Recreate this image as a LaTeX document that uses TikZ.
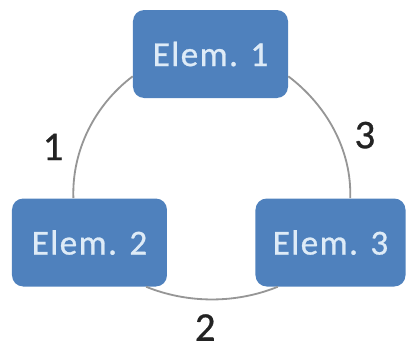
\documentclass[tikz,border=0pt]{standalone}
\usepackage{fontspec}
\setmainfont{Carlito}[FakeBold=0.8]
\newfontfamily\boxfont[LetterSpace=4,FakeBold=0.8]{Carlito}
\usepackage{xcolor}
\usepackage{tikz}
\usetikzlibrary{shapes,arrows,positioning}
\tikzset{
  font={\fontsize{29pt}{34}\selectfont}
}
\definecolor{colorB}{RGB}{79,129,189}
\definecolor{colorT}{RGB}{222,235,247}
\definecolor{colorL}{RGB}{150,150,150}
\definecolor{colorN}{RGB}{35,35,35}
\tikzstyle{line}=[draw=colorL, line width=1.3pt]
\tikzstyle{block}=[rectangle,rounded corners=8pt,fill=colorB,text=colorT,font={\boxfont\fontsize{25pt}{30}\selectfont},minimum width=38.75mm,minimum height=22mm,inner sep=0pt,on grid]
\tikzstyle{lab}=[text=colorN,inner sep=0pt]

\begin{document}
\begin{tikzpicture}[node distance=47mm]
\useasboundingbox (0,0) rectangle (10.15,-8.775);

\node[block] (elem_1) at (5.2625,-1.35) {Elem. 1};
\node[block,below left=47.125mm and 30.25mm of elem_1] (elem_2) {Elem. 2};
\node[block,minimum width=37.5mm,below right=47.125mm and 30mm of elem_1] (elem_3) {Elem. 3};

\draw[line] (elem_1.196) to[out=217,in=92,looseness=0.9] node[lab,pos=0.63,left=12pt] {1} (elem_2.110);
\draw[line] (elem_1.344) to[out=-37,in=88,looseness=0.9] node[lab,pos=0.54,right=12pt] {3} (elem_3.66);
\draw[line] (elem_2.-38) to[out=-22,in=202,looseness=0.88] node[lab,pos=0.45,below=10pt] {2} (elem_3.220);

\end{tikzpicture}
\end{document}
